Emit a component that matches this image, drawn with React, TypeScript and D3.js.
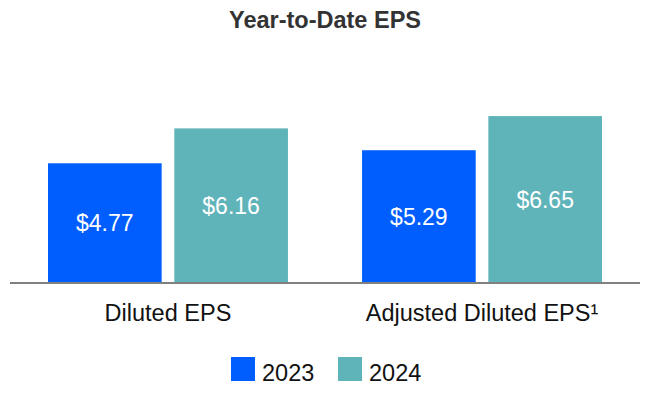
import * as d3 from "d3";

const categories = ["Diluted EPS", "Adjusted Diluted EPS¹"];
const years = ["2023", "2024"];
const eps2023 = [4.77, 5.29];
const eps2024 = [6.16, 6.65];

const width = 650;
const height = 398;
const baseline = 283;
const colors = ["#005EFF", "#5FB4BA"];
const font = "Arial, 'Liberation Sans', sans-serif";

export default function App() {
    const x0 = d3.scaleBand<string>()
        .domain(categories)
        .range([10, 640])
        .paddingInner(0.236)
        .paddingOuter(0.121);

    const x1 = d3.scaleBand<string>()
        .domain(years)
        .range([0, x0.bandwidth()])
        .paddingInner(0.1);

    // ~25 px per dollar
    const y = d3.scaleLinear().domain([0, 7]).range([baseline, baseline - 7 * 25.1]);

    const series = [eps2023, eps2024];

    return <svg width={width} height={height} style={{position: "absolute", left: 0, top: 0, fontFamily: font}}>
        <text x={width / 2} y={28} textAnchor="middle" fontSize={23.5} fontWeight="bold" fill="#333">Year-to-Date EPS</text>

        {categories.map((cat, ci) => (
            <g key={cat} transform={`translate(${x0(cat)},0)`}>
                {years.map((yr, si) => {
                    const v = series[si][ci];
                    const bx = x1(yr) ?? 0;
                    const top = y(v);
                    return <g key={yr}>
                        <rect x={bx} y={top} width={x1.bandwidth()} height={baseline - top} fill={colors[si]}/>
                        <text x={bx + x1.bandwidth() / 2} y={(top + baseline) / 2} dy="0.35em" textAnchor="middle"
                              fontSize={23} fill="#fff">{d3.format("$.2f")(v)}</text>
                    </g>;
                })}
                <text x={x0.bandwidth() / 2} y={321} textAnchor="middle" fontSize={23.5} fill="#111">{cat}</text>
            </g>
        ))}

        <line x1={10} x2={640} y1={baseline} y2={baseline} stroke="#808080" strokeWidth={2}/>

        {years.map((yr, i) => {
            const lx = [231, 338][i];
            return <g key={yr}>
                <rect x={lx} y={357} width={24} height={24} fill={colors[i]}/>
                <text x={lx + 31} y={381} fontSize={23.5} fill="#111">{yr}</text>
            </g>;
        })}
    </svg>;
}
